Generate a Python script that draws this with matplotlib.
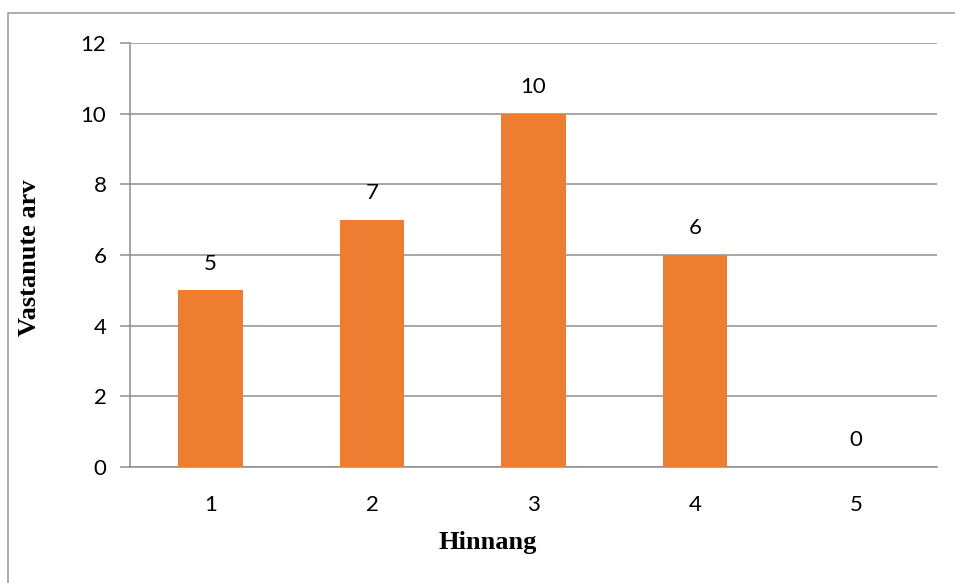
import matplotlib.pyplot as plt
from matplotlib.lines import Line2D

hinnang = ['1', '2', '3', '4', '5']
vastanute_arv = [5, 7, 10, 6, 0]
y_ticks = [0, 2, 4, 6, 8, 10, 12]

W, H = 955, 583
fig = plt.figure(figsize=(W / 100, H / 100), dpi=100)
ax = fig.add_axes([130 / W, 1 - 467 / H, 807 / W, 424 / H])

pos = range(len(hinnang))
ax.bar(pos, vastanute_arv, width=0.4, color='#ED7D31', zorder=3)
for x, v in zip(pos, vastanute_arv):
    ax.annotate(str(v), (x, v), xytext=(0, 12), textcoords='offset points',
                ha='center', va='bottom', fontsize=16, family='Lato')

ax.set_xlim(-0.5, len(hinnang) - 0.5)
ax.set_ylim(0, 12)
ax.set_yticks(y_ticks)
ax.set_xticks(list(pos))
ax.set_xticklabels(hinnang)
ax.yaxis.grid(True, color='#8E8E8E', linewidth=1.1, zorder=0)

for s in ['top', 'right']:
    ax.spines[s].set_visible(False)
ax.spines['left'].set_color('#8E8E8E')
ax.spines['bottom'].set_color('#8E8E8E')
ax.spines['left'].set_linewidth(1.1)
ax.spines['bottom'].set_linewidth(1.1)

ax.tick_params(axis='y', length=7, width=1.1, color='#8E8E8E', pad=10, labelsize=16)
ax.tick_params(axis='x', length=0, pad=20, labelsize=16)
for lbl in ax.get_xticklabels() + ax.get_yticklabels():
    lbl.set_family('Lato')

fig.text(30 / W, 1 - 258 / H, 'Vastanute arv', rotation=90, ha='center', va='center',
         family='Liberation Serif', fontweight='bold', fontsize=19)
fig.text(488 / W, 1 - 543 / H, 'Hinnang', ha='center', va='center',
         family='Liberation Serif', fontweight='bold', fontsize=19)

# chart frame, only left and top edges are visible
bx, by = 7.5 / W, 1 - 13 / H
fig.add_artist(Line2D([bx, bx, 1.0], [0, by, by], transform=fig.transFigure,
                      color='#A6A6A6', linewidth=1.3))

fig.savefig('out.png', dpi=100)
